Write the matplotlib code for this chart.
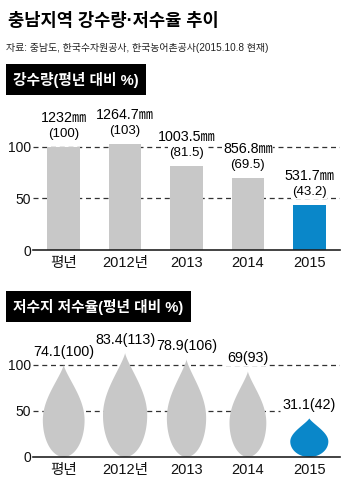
import numpy as np
import matplotlib.pyplot as plt
from matplotlib.patches import Polygon

plt.rcParams['font.family'] = ['Liberation Sans', 'Noto Sans CJK KR']

# data
years = ['평년', '2012년', '2013', '2014', '2015']
rain_mm = [1232, 1264.7, 1003.5, 856.8, 531.7]
rain_pct = [100, 103, 81.5, 69.5, 43.2]
res_rate = [74.1, 83.4, 78.9, 69, 31.1]
res_pct = [100, 113, 106, 93, 42]

# style
gray = '#c8c8c8'
blue = '#0a87c9'
colors = [gray, gray, gray, gray, blue]
drop_w = [0.68, 0.72, 0.64, 0.60, 0.62]
x = np.arange(len(years))

fig = plt.figure(figsize=(3.5, 4.92), dpi=100)

fig.text(0.023, 0.957, '충남지역 강수량·저수율 추이', fontsize=12.7, fontweight='bold', va='center')
fig.text(0.017, 0.902, '자료: 충남도, 한국수자원공사, 한국농어촌공사(2015.10.8 현재)',
         fontsize=7.2, va='center', color='#222')


def box_title(y, s):
    fig.text(0.037, y, s, color='white', fontsize=10.6, fontweight='bold', va='center',
             bbox=dict(boxstyle='square,pad=0.5', fc='black', ec='none'))


def style(ax, ymax):
    ax.set_xlim(-0.5, 4.5)
    ax.set_ylim(0, ymax)
    for s in ['top', 'right', 'left']:
        ax.spines[s].set_visible(False)
    ax.spines['bottom'].set_color('#222')
    ax.spines['bottom'].set_linewidth(1.2)
    ax.set_yticks([0, 50, 100])
    ax.set_xticks(x)
    ax.set_xticklabels(years)
    ax.tick_params(length=0, colors='#111')
    ax.tick_params(axis='x', pad=4.5, labelsize=10.5)
    ax.tick_params(axis='y', pad=1.5, labelsize=10)
    ax.patch.set_visible(False)


def drop(xc, h, w, s0=0.4, n=60):
    W = w / 2
    t = np.linspace(0, np.pi / 2, n)
    xb = W * np.sin(t)
    yb = s0 * h * (1 - np.cos(t))
    u = np.linspace(0, 1, n)[1:]
    xu = W * np.cos(np.pi / 2 * u) ** 1.25
    yu = s0 * h + (1 - s0) * h * u
    xs = np.concatenate([xb, xu])
    ys = np.concatenate([yb, yu])
    return np.column_stack([np.concatenate([xc + xs, (xc - xs)[::-1]]),
                            np.concatenate([ys, ys[::-1]])])


# 강수량
box_title(0.8384, '강수량(평년 대비 %)')
ax1 = fig.add_axes([33 / 350, 242 / 492, 307 / 350, 134 / 492])
style(ax1, 130)
for v in [50, 100]:
    ax1.axhline(v, ls=(0, (4, 3)), color='#333', lw=0.9, zorder=0)
ax1.bar(x, rain_pct, width=0.53, color=colors, zorder=2)
for i in range(len(x)):
    ax1.annotate(f'{rain_mm[i]:g}㎜', (x[i], rain_pct[i]), xytext=(0, 21),
                 textcoords='offset points', ha='center', va='center', fontsize=10.3,
                 bbox=dict(fc='white', ec='none', pad=0.5), zorder=3)
    ax1.annotate(f'({rain_pct[i]:g})', (x[i], rain_pct[i]), xytext=(0, 9.5),
                 textcoords='offset points', ha='center', va='center', fontsize=9.5,
                 bbox=dict(fc='white', ec='none', pad=0.5), zorder=3)

# 저수율
box_title(0.377, '저수지 저수율(평년 대비 %)')
ax2 = fig.add_axes([33 / 350, 35 / 492, 307 / 350, 128.8 / 492])
style(ax2, 140)
ax2.axhline(100, ls=(0, (4, 3)), color='#333', lw=0.9, zorder=0)
ax2.axhline(50, xmax=0.805, ls=(0, (4, 3)), color='#333', lw=0.9, zorder=0)
for i in range(len(x)):
    ax2.add_patch(Polygon(drop(x[i], res_pct[i], drop_w[i]), closed=True,
                          fc=colors[i], ec='none', zorder=2))
    ax2.annotate(f'{res_rate[i]:g}({res_pct[i]:g})', (x[i], res_pct[i]), xytext=(0, 9.5),
                 textcoords='offset points', ha='center', va='center', fontsize=10.3,
                 bbox=dict(fc='white', ec='none', pad=0.5), zorder=3)

fig.savefig('out.png', dpi=100)
